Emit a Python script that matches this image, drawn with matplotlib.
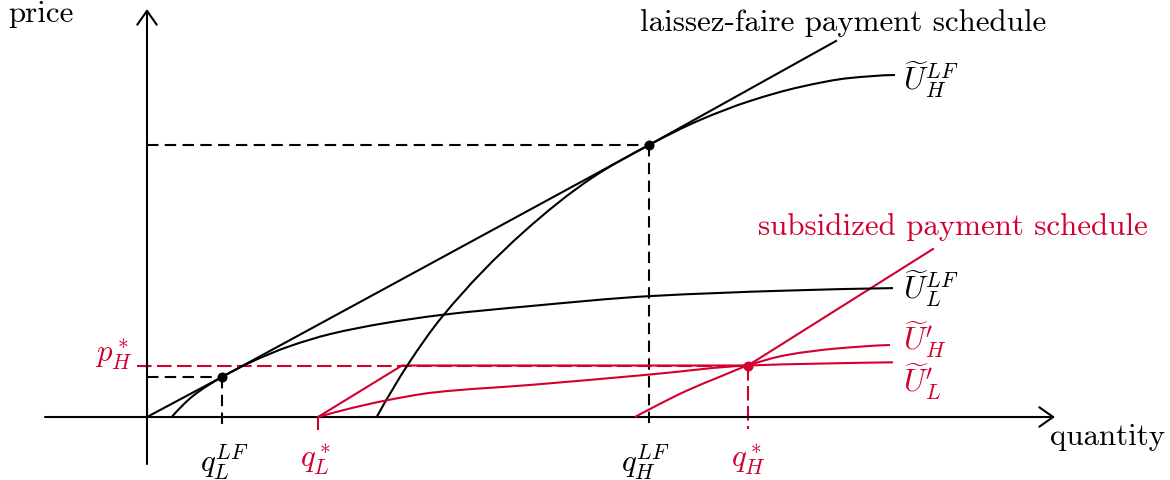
import numpy as np
import matplotlib
matplotlib.use("Agg")
import matplotlib.pyplot as plt
from matplotlib.path import Path
from matplotlib.patches import PathPatch, FancyArrowPatch

plt.rcParams['mathtext.fontset'] = 'cm'
plt.rcParams['lines.scale_dashes'] = False

RED = '#D2002E'
BLACK = 'black'
FS = 22.3

# ---- contracts -------------------------------------------------------
q_L_LF, p_L_LF = 7.5, 4.0
q_H_LF, p_H_LF = 50.2, 27.2
q_L_star = 17.1
q_H_star, p_H_star = 60.1, 5.15

# ---- payment schedules ----------------------------------------------
lf_sched_q = [0.0, q_L_LF, q_H_LF, 68.9]
lf_sched_p = [0.0, p_L_LF, p_H_LF, 37.6]

sub_sched_q = [q_L_star, 25.5, q_H_star, 78.6]
sub_sched_p = [0.0, p_H_star, p_H_star, 16.8]

# ---- indifference curves ---------------------------------------------
U_H_LF_q = [22.97, 26.13, 29.47, 37.63, 44.63, q_H_LF, 55.3, 60.3, 65.3, 70.3, 74.8]
U_H_LF_p = [0.0, 5.3, 9.97, 18.47, 24.0, p_H_LF, 29.7, 31.6, 33.0, 33.9, 34.2]

U_L_LF_q = [2.47, 4.63, q_L_LF, 10.3, 14.3, 18.3, 23.63, 29.47, 38.3, 50.3, 63.97, 74.6]
U_L_LF_p = [0.0, 2.13, p_L_LF, 5.45, 7.09, 8.29, 9.36, 10.21, 11.09, 12.09, 12.64, 12.89]

U_L_sub_q = [q_L_star, 20.3, 23.63, 28.63, 38.63, 50.3, q_H_star, 67.3, 74.6]
U_L_sub_p = [0.0, 0.85, 1.6, 2.45, 3.23, 4.25, p_H_star, 5.34, 5.47]

U_H_sub_q = [48.8, 50.3, 53.97, 57.3, q_H_star, 63.97, 68.97, 74.3]
U_H_sub_p = [0.0, 0.8, 2.63, 4.03, p_H_star, 6.2, 6.85, 7.2]


def smooth_path(xs, ys):
    """Monotone cubic (Fritsch-Carlson) curve through the points, as Bezier path."""
    x = np.asarray(xs, float)
    y = np.asarray(ys, float)
    h = np.diff(x)
    d = np.diff(y) / h
    n = len(x)
    m = np.zeros(n)
    for k in range(1, n - 1):
        if d[k - 1] * d[k] > 0:
            w1 = 2 * h[k] + h[k - 1]
            w2 = h[k] + 2 * h[k - 1]
            m[k] = (w1 + w2) / (w1 / d[k - 1] + w2 / d[k])

    def end_slope(h0, h1, d0, d1):
        s = ((2 * h0 + h1) * d0 - h0 * d1) / (h0 + h1)
        if np.sign(s) != np.sign(d0):
            return 0.0
        if np.sign(d0) != np.sign(d1) and abs(s) > abs(3 * d0):
            return 3 * d0
        return s

    m[0] = end_slope(h[0], h[1], d[0], d[1])
    m[-1] = end_slope(h[-1], h[-2], d[-1], d[-2])

    verts = [(x[0], y[0])]
    codes = [Path.MOVETO]
    for k in range(n - 1):
        t = h[k] / 3.0
        verts += [(x[k] + t, y[k] + m[k] * t),
                  (x[k + 1] - t, y[k + 1] - m[k + 1] * t),
                  (x[k + 1], y[k + 1])]
        codes += [Path.CURVE4] * 3
    return Path(verts, codes)


fig = plt.figure(figsize=(11.7, 4.81), dpi=100)
ax = fig.add_axes([0, 0, 1, 1])
ax.set_xlim(-14.7, 102.3)
ax.set_ylim(-6.3, 41.8)
ax.axis('off')

LW = 1.5
black_dash = (0, (8.2, 4.6))
red_dash = (0, (10.5, 3.9))

# ---- axes with open arrow heads ---------------------------------------
for start, end in [((-10.2, 0), (90.8, 0)), ((0, -4.7), (0, 40.8))]:
    ax.add_patch(FancyArrowPatch(start, end,
                                 arrowstyle='->,head_length=10,head_width=7',
                                 mutation_scale=1, lw=1.5, color=BLACK,
                                 shrinkA=0, shrinkB=0, zorder=3))

# ---- guide lines -----------------------------------------------------
ax.plot([0, q_L_LF], [p_L_LF, p_L_LF], color=BLACK, lw=LW, ls=black_dash)
ax.plot([q_L_LF, q_L_LF], [p_L_LF, -1.2], color=BLACK, lw=LW, ls=black_dash)
ax.plot([0, q_H_LF], [p_H_LF, p_H_LF], color=BLACK, lw=LW, ls=black_dash)
ax.plot([q_H_LF, q_H_LF], [p_H_LF, -1.2], color=BLACK, lw=LW, ls=black_dash)

ax.plot([-1.0, q_H_star], [p_H_star, p_H_star], color=RED, lw=LW, ls=red_dash)
ax.plot([q_H_star, q_H_star], [p_H_star, -1.2], color=RED, lw=LW, ls=red_dash)
ax.plot([q_L_star, q_L_star], [0, -1.2], color=RED, lw=LW)

# ---- schedules and indifference curves ---------------------------------
ax.plot(lf_sched_q, lf_sched_p, color=BLACK, lw=LW, zorder=4)
ax.plot(sub_sched_q, sub_sched_p, color=RED, lw=LW, zorder=4)

for qs, ps, col in [(U_H_LF_q, U_H_LF_p, BLACK), (U_L_LF_q, U_L_LF_p, BLACK),
                    (U_L_sub_q, U_L_sub_p, RED), (U_H_sub_q, U_H_sub_p, RED)]:
    ax.add_patch(PathPatch(smooth_path(qs, ps), fill=False, edgecolor=col,
                           lw=LW, zorder=4))

ax.plot([q_L_LF, q_H_LF], [p_L_LF, p_H_LF], 'o', color=BLACK, ms=6.2, zorder=5)
ax.plot([q_H_star], [p_H_star], 'o', color=RED, ms=6.2, zorder=5)

# ---- text ------------------------------------------------------------
ax.text(-13.9, 39.6, 'price', family='cmr10', fontsize=FS, va='baseline')
ax.text(90.3, -2.7, 'quantity', family='cmr10', fontsize=FS, va='baseline')
ax.text(49.3, 38.7, 'laissez-faire payment schedule', family='cmr10',
        fontsize=FS, va='baseline')
ax.text(61.1, 18.3, 'subsidized payment schedule', family='cmr10',
        fontsize=FS, va='baseline', color=RED)

ax.text(75.6, 33.8, r'$\widetilde{U}_H^{LF}$', fontsize=FS, va='center')
ax.text(75.6, 12.9, r'$\widetilde{U}_L^{LF}$', fontsize=FS, va='center')
ax.text(75.6, 7.8, r'$\widetilde{U}_H^{\prime}$', fontsize=FS, va='center', color=RED)
ax.text(75.6, 5.7, r'$\widetilde{U}_L^{\prime}$', fontsize=FS, va='top', color=RED)

ax.text(q_L_LF + 0.2, -2.5, r'$q_L^{LF}$', fontsize=FS, ha='center', va='top')
ax.text(q_H_LF - 0.4, -2.5, r'$q_H^{LF}$', fontsize=FS, ha='center', va='top')
ax.text(q_L_star - 0.3, -2.5, r'$q_L^*$', fontsize=FS, ha='center', va='top', color=RED)
ax.text(q_H_star, -2.5, r'$q_H^*$', fontsize=FS, ha='center', va='top', color=RED)
ax.text(-1.4, 6.3, r'$p_H^*$', fontsize=FS, ha='right', va='center', color=RED)

fig.savefig('out.png', dpi=100)
